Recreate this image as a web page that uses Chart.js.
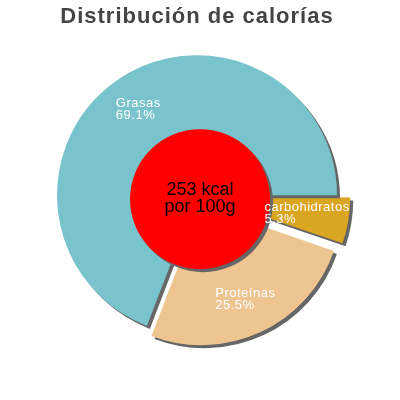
<!DOCTYPE html>
<html>
<head>
<meta charset="utf-8">
<script src="https://cdn.jsdelivr.net/npm/chart.js@4.4.0/dist/chart.umd.min.js"></script>
<style>
html, body { margin: 0; padding: 0; background: #fff; }
#wrap { width: 400px; height: 400px; }
</style>
</head>
<body>
<div id="wrap"><canvas id="calorias"></canvas></div>
<script>
// datos del gráfico (sentido horario desde las 3 en punto)
const etiquetas = ['carbohidratos', 'Proteínas', 'Grasas'];
const porcentajes = [5.3, 25.5, 69.1];
const colores = ['#daa520', '#eec591', '#79c4cc'];
// Chart.js desplaza la porción offset/4 píxeles
const desplazamientos = [32, 44, 0];
const textoCentro = ['253 kcal', 'por 100g'];
const titulo = 'Distribución de calorías';

const canvas = document.getElementById('calorias');

// sombra gris bajo las porciones, círculo rojo y etiquetas
const decoracion = {
    id: 'decoracion',
    beforeDraw(chart) {
        // el título va algo espaciado
        chart.ctx.letterSpacing = '1px';
    },
    beforeDatasetsDraw(chart) {
        const ctx = chart.ctx;
        ctx.letterSpacing = '0px';
        ctx.save();
        ctx.shadowColor = '#666666';
        ctx.shadowOffsetX = 3;
        ctx.shadowOffsetY = 3;
        ctx.shadowBlur = 0;
    },
    afterDatasetsDraw(chart) {
        const ctx = chart.ctx;
        ctx.restore();
        const arcos = chart.getDatasetMeta(0).data;
        const centro = arcos[0].getProps(['x', 'y', 'outerRadius'], true);

        // círculo rojo con la energía
        ctx.save();
        ctx.shadowColor = '#666666';
        ctx.shadowOffsetX = 3;
        ctx.shadowOffsetY = 3;
        ctx.fillStyle = '#ff0000';
        ctx.beginPath();
        ctx.arc(centro.x + 3, centro.y + 4, centro.outerRadius * 0.5, 0, Math.PI * 2);
        ctx.fill();
        ctx.restore();

        ctx.save();
        ctx.fillStyle = '#000';
        ctx.font = '18px "Liberation Sans", Arial, sans-serif';
        ctx.textAlign = 'center';
        ctx.textBaseline = 'middle';
        ctx.fillText(textoCentro[0], centro.x + 3, centro.y - 5);
        ctx.fillText(textoCentro[1], centro.x + 3, centro.y + 12);
        ctx.restore();

        // etiquetas de cada porción
        ctx.save();
        ctx.fillStyle = '#fff';
        ctx.font = '13px "Liberation Sans", Arial, sans-serif';
        ctx.letterSpacing = '0.5px';
        ctx.textBaseline = 'middle';
        ctx.textAlign = 'left';
        arcos.forEach((arco, i) => {
            const p = arco.getProps(['x', 'y', 'startAngle', 'endAngle', 'outerRadius'], true);
            const medio = (p.startAngle + p.endAngle) / 2;
            const r = p.outerRadius * 0.74 + desplazamientos[i] / 4;
            const cx = p.x + Math.cos(medio) * r;
            const cy = p.y + Math.sin(medio) * r;
            const linea1 = etiquetas[i];
            const linea2 = porcentajes[i].toFixed(1) + '%';
            const ancho = Math.max(ctx.measureText(linea1).width, ctx.measureText(linea2).width);
            const x0 = cx - ancho / 2;
            ctx.fillText(linea1, x0, cy - 6);
            ctx.fillText(linea2, x0, cy + 6);
        });
        ctx.restore();
    }
};

new Chart(canvas, {
    type: 'pie',
    data: {
        labels: etiquetas,
        datasets: [{
            data: porcentajes,
            backgroundColor: colores,
            borderWidth: 0,
            offset: desplazamientos
        }]
    },
    options: {
        responsive: true,
        maintainAspectRatio: false,
        animation: false,
        rotation: 90,
        radius: 140,
        layout: { padding: { left: 0, right: 6, top: 0, bottom: 50 } },
        plugins: {
            legend: { display: false },
            tooltip: { enabled: false },
            title: {
                display: true,
                text: titulo,
                color: '#444444',
                font: { size: 22, weight: 'bold', family: '"Liberation Sans", Arial, sans-serif' },
                padding: { top: 4, bottom: 10 }
            }
        }
    },
    plugins: [decoracion]
});
</script>
</body>
</html>
